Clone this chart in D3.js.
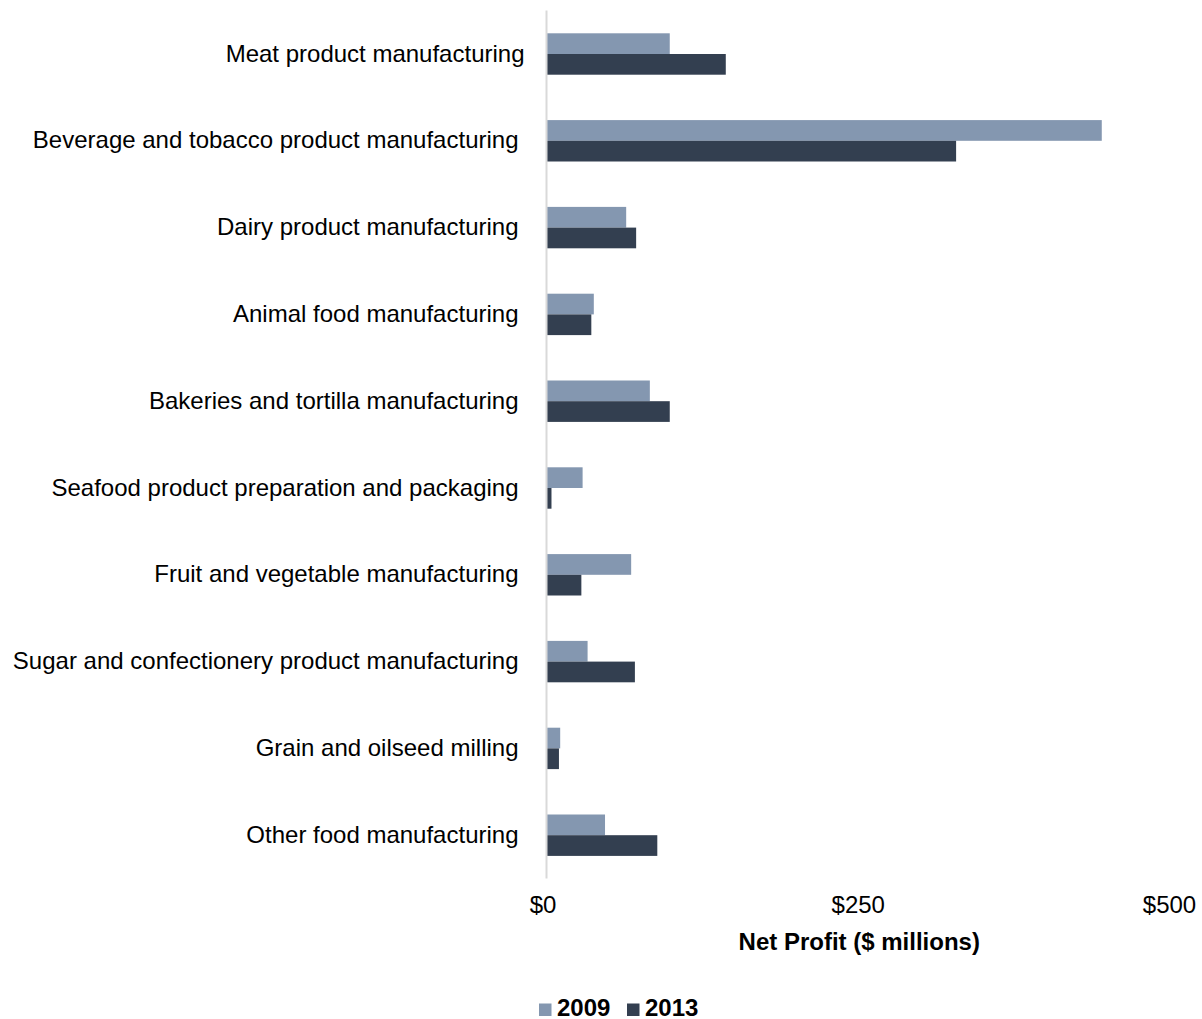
<!DOCTYPE html>
<html>
<head>
<meta charset="utf-8">
<script src="https://cdn.jsdelivr.net/npm/d3@7"></script>
<style>
  html, body { margin: 0; padding: 0; background: #fff; }
  svg { display: block; font-family: "Liberation Sans", Arial, sans-serif; }
</style>
</head>
<body>
<svg id="chart" width="1202" height="1019"></svg>
<script>
// Industry categories, top to bottom
const categories = [
  "Meat product manufacturing",
  "Beverage and tobacco product manufacturing",
  "Dairy product manufacturing",
  "Animal food manufacturing",
  "Bakeries and tortilla manufacturing",
  "Seafood product preparation and packaging",
  "Fruit and vegetable manufacturing",
  "Sugar and confectionery product manufacturing",
  "Grain and oilseed milling",
  "Other food manufacturing"
];

// Net profit, $ millions
const profit2009 = [99, 446, 64, 38, 83, 29, 68, 33, 11, 47];
const profit2013 = [144, 329, 72, 36, 99, 4, 28, 71, 10, 89];

const seriesNames = ["2009", "2013"];
const seriesColors = ["#8497B0", "#333F50"];
const xTicks = [0, 250, 500];

const rows = categories.map((c, i) => ({
  category: c,
  values: [
    { key: "2009", value: profit2009[i] },
    { key: "2013", value: profit2013[i] }
  ]
}));

const svg = d3.select("#chart");
const FONT = 24;

const x = d3.scaleLinear().domain([0, 500]).range([546.5, 1169]);
const y = d3.scaleBand()
  .domain(categories)
  .range([10.6, 878.6])
  .paddingInner(0.523)
  .paddingOuter(0.2615);
const ySub = d3.scaleBand().domain(seriesNames).range([0, y.bandwidth()]);
const color = d3.scaleOrdinal().domain(seriesNames).range(seriesColors);

// Bars
const groups = svg.append("g").selectAll("g")
  .data(rows)
  .join("g")
  .attr("transform", d => `translate(0,${y(d.category)})`);

groups.selectAll("rect")
  .data(d => d.values)
  .join("rect")
  .attr("x", x(0))
  .attr("y", d => ySub(d.key))
  .attr("width", d => x(d.value) - x(0))
  .attr("height", ySub.bandwidth())
  .attr("fill", d => color(d.key));

// Category axis (vertical line at zero)
const yAxis = d3.axisLeft(y).tickSize(0).tickPadding(0);
const yG = svg.append("g")
  .attr("transform", `translate(${x(0)},0)`)
  .call(yAxis);
yG.select(".domain").remove();
yG.append("line")
  .attr("x1", 0).attr("x2", 0)
  .attr("y1", y.range()[0]).attr("y2", y.range()[1])
  .attr("stroke", "#d9d9d9")
  .attr("stroke-width", 2);
yG.selectAll(".tick text")
  .attr("x", (d, i) => i === 0 ? -22 : -28)
  .attr("font-size", FONT)
  .attr("font-family", "Liberation Sans, Arial, sans-serif")
  .attr("fill", "#000");

// Value axis labels
const xAxis = d3.axisBottom(x)
  .tickValues(xTicks)
  .tickSize(0)
  .tickPadding(0)
  .tickFormat(d => "$" + d3.format(",")(d));
const xG = svg.append("g")
  .attr("transform", `translate(0,913)`)
  .call(xAxis);
xG.select(".domain").remove();
xG.selectAll(".tick text")
  .attr("dy", 0)
  .attr("dx", (d, i) => i === 0 ? -4 : 0)
  .attr("font-size", FONT)
  .attr("font-family", "Liberation Sans, Arial, sans-serif")
  .attr("fill", "#000");

// Axis title
svg.append("text")
  .attr("x", x(250) + 1.5)
  .attr("y", 950)
  .attr("text-anchor", "middle")
  .attr("font-size", FONT)
  .attr("font-weight", "bold")
  .attr("fill", "#000")
  .text("Net Profit ($ millions)");

// Legend
const legend = svg.append("g").attr("transform", "translate(539,0)");
const legendOffsets = [0, 88];
seriesNames.forEach((s, i) => {
  const g = legend.append("g").attr("transform", `translate(${legendOffsets[i]},0)`);
  g.append("rect")
    .attr("x", 0).attr("y", 1003.5)
    .attr("width", 12.5).attr("height", 12.5)
    .attr("fill", color(s));
  g.append("text")
    .attr("x", 18)
    .attr("y", 1016)
    .attr("font-size", FONT)
    .attr("font-weight", "bold")
    .attr("fill", "#000")
    .text(s);
});
</script>
</body>
</html>
